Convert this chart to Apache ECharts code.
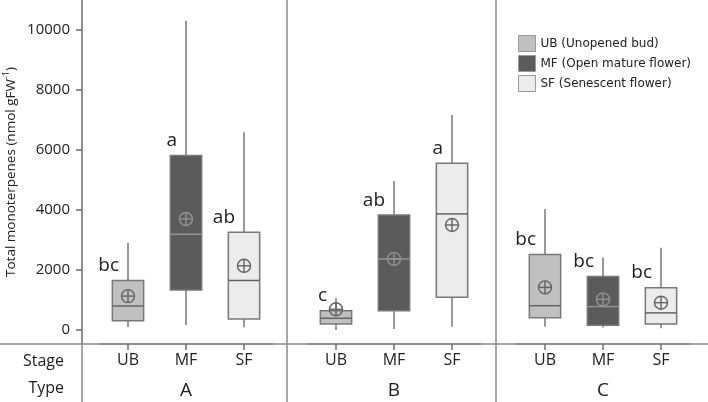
<!DOCTYPE html>
<html>
<head>
<meta charset="utf-8">
<script src="https://cdn.jsdelivr.net/npm/echarts@6/dist/echarts.min.js"></script>
<style>
  html, body { margin: 0; padding: 0; background: #fff; }
  #main { width: 708px; height: 402px; }
</style>
</head>
<body>
<div id="main"></div>
<script>
var stages = ['UB', 'MF', 'SF'];
var stageNames = ['UB (Unopened bud)', 'MF (Open mature flower)', 'SF (Senescent flower)'];
var types = ['A', 'B', 'C'];
var yTicks = [0, 2000, 4000, 6000, 8000, 10000];

// [min, Q1, median, Q3, max] for UB, MF, SF
var boxA = [[90, 310, 800, 1650, 2900], [170, 1330, 3190, 5820, 10310], [90, 370, 1650, 3260, 6590]];
var boxB = [[0, 200, 390, 640, 1060], [30, 640, 2370, 3830, 4970], [110, 1090, 3870, 5560, 7170]];
var boxC = [[110, 410, 810, 2520, 4030], [80, 160, 780, 1780, 2420], [60, 200, 570, 1410, 2740]];
var meanA = [1130, 3700, 2140];
var meanB = [690, 2370, 3500];
var meanC = [1420, 1020, 910];
var lettersA = ['bc', 'a', 'ab'];
var lettersB = ['c', 'ab', 'a'];
var lettersC = ['bc', 'bc', 'bc'];

var boxes = [boxA, boxB, boxC];
var means = [meanA, meanB, meanC];
var letters = [lettersA, lettersB, lettersC];

var fills = ['#c0c0c0', '#5b5b5b', '#ececec'];
var inner = ['#646464', '#939393', '#646464'];
var lineColor = '#787878';
var frame = '#8a8a8a';
var font = '"Open Sans", sans-serif';

var myChart = echarts.init(document.getElementById('main'));

// axis line sits 14px under the zero line
var grids = [
    { left: 99, width: 174, top: 0, bottom: 58, outerBoundsMode: 'none' },
    { left: 307, width: 174, top: 0, bottom: 58, outerBoundsMode: 'none' },
    { left: 516, width: 174, top: 0, bottom: 58, outerBoundsMode: 'none' }
];

var xAxes = [], yAxes = [], series = [];
types.forEach(function (t, g) {
    xAxes.push({
        type: 'category',
        gridIndex: g,
        data: stages,
        axisLine: { show: true, onZero: false, lineStyle: { color: frame, width: 1.5 } },
        axisTick: { show: true, alignWithLabel: true, length: 6, lineStyle: { color: '#707070', width: 1.5 } },
        axisLabel: { margin: 8, fontSize: 16, color: '#222', fontFamily: font },
        name: t,
        nameLocation: 'middle',
        nameGap: 37,
        nameTextStyle: { fontSize: 19, color: '#222', fontFamily: font }
    });
    yAxes.push({
        type: 'value',
        gridIndex: g,
        min: -467,
        max: 11000,
        show: g === 0,
        offset: 17,
        splitLine: { show: false },
        axisLine: { show: true, onZero: false, lineStyle: { color: frame, width: 1.5 } },
        axisTick: { show: true, length: 6, customValues: yTicks, lineStyle: { color: '#707070', width: 1.5 } },
        axisLabel: { customValues: yTicks, formatter: function (v) { return String(v); }, margin: 12, fontSize: 15, color: '#222', fontFamily: font },
        name: g === 0 ? '{n|Total monoterpenes (nmol gFW}{s|-1}{n|)}' : '',
        nameLocation: 'middle',
        nameGap: 62,
        nameTextStyle: {
            rich: {
                n: { fontSize: 13.5, color: '#222', fontFamily: font, lineHeight: 18 },
                s: { fontSize: 9, color: '#222', fontFamily: font, verticalAlign: 'top', lineHeight: 18, padding: [0, 0, 6, 0] }
            }
        }
    });
    stages.forEach(function (s, i) {
        var b = boxes[g][i];
        series.push({
            type: 'custom',
            name: stageNames[i],
            xAxisIndex: g,
            yAxisIndex: g,
            itemStyle: { color: fills[i], borderColor: '#9a9a9a', borderWidth: 1 },
            encode: { x: 0, y: [1, 2, 3, 4, 5, 6] },
            data: [[i, b[0], b[1], b[2], b[3], b[4], means[g][i], letters[g][i]]],
            renderItem: function (params, api) {
                var x = api.value(0);
                var lo = api.coord([x, api.value(1)]);
                var q1 = api.coord([x, api.value(2)]);
                var md = api.coord([x, api.value(3)]);
                var q3 = api.coord([x, api.value(4)]);
                var hi = api.coord([x, api.value(5)]);
                var mn = api.coord([x, api.value(6)]);
                var half = api.size([1, 0])[0] * 0.27;
                var cx = q1[0];
                var r = 6.5;
                var txt = api.value(7);
                return {
                    type: 'group',
                    children: [
                        { type: 'line', shape: { x1: cx, y1: lo[1], x2: cx, y2: q1[1] }, style: { stroke: lineColor, lineWidth: 1.5 } },
                        { type: 'line', shape: { x1: cx, y1: q3[1], x2: cx, y2: hi[1] }, style: { stroke: lineColor, lineWidth: 1.5 } },
                        { type: 'rect', shape: { x: cx - half, y: q3[1], width: half * 2, height: q1[1] - q3[1] }, style: { fill: fills[i], stroke: lineColor, lineWidth: 1.5 } },
                        { type: 'line', shape: { x1: cx - half, y1: md[1], x2: cx + half, y2: md[1] }, style: { stroke: inner[i], lineWidth: 1.5 } },
                        { type: 'circle', shape: { cx: cx, cy: mn[1], r: r }, style: { fill: 'none', stroke: inner[i], lineWidth: 1.4 } },
                        { type: 'line', shape: { x1: cx - r, y1: mn[1], x2: cx + r, y2: mn[1] }, style: { stroke: inner[i], lineWidth: 1.4 } },
                        { type: 'line', shape: { x1: cx, y1: mn[1] - r, x2: cx, y2: mn[1] + r }, style: { stroke: inner[i], lineWidth: 1.4 } },
                        { type: 'text', style: { text: txt, x: cx - 9, y: q3[1] - 15, align: 'right', textAlign: 'right', verticalAlign: 'middle', textVerticalAlign: 'middle', fontSize: 19, fontFamily: font, fill: '#222' } }
                    ]
                };
            }
        });
    });
});

var option = {
    animation: false,
    grid: grids,
    xAxis: xAxes,
    yAxis: yAxes,
    legend: {
        data: stageNames,
        orient: 'vertical',
        left: 518,
        top: 35,
        padding: 0,
        icon: 'rect',
        itemWidth: 17,
        itemHeight: 16,
        itemGap: 3,
        itemStyle: { borderColor: '#9a9a9a', borderWidth: 1 },
        selectedMode: false,
        textStyle: { fontFamily: 'DejaVu Sans', fontSize: 12, color: '#222', lineHeight: 16 }
    },
    graphic: [
        { type: 'line', shape: { x1: 0, y1: 344, x2: 708, y2: 344 }, style: { stroke: frame, lineWidth: 1.5 } },
        { type: 'line', shape: { x1: 82, y1: 0, x2: 82, y2: 402 }, style: { stroke: frame, lineWidth: 1.5 } },
        { type: 'line', shape: { x1: 287, y1: 0, x2: 287, y2: 402 }, style: { stroke: frame, lineWidth: 1.5 } },
        { type: 'line', shape: { x1: 496, y1: 0, x2: 496, y2: 402 }, style: { stroke: frame, lineWidth: 1.5 } },
        { type: 'text', right: 644, top: 353, style: { text: 'Stage', fontSize: 16, fontFamily: font, fill: '#222' } },
        { type: 'text', right: 644, top: 380, style: { text: 'Type', fontSize: 16, fontFamily: font, fill: '#222' } }
    ],
    series: series
};

myChart.setOption(option);
</script>
</body>
</html>
